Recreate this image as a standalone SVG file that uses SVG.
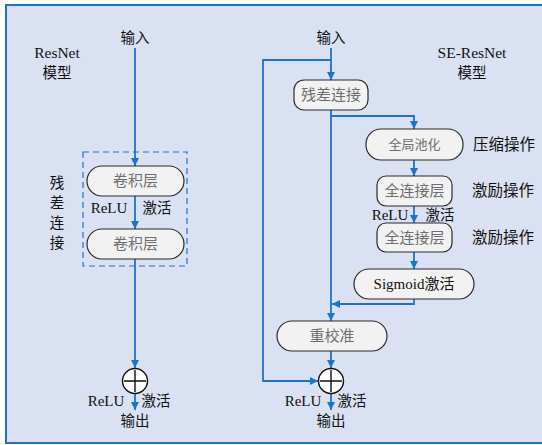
<svg xmlns="http://www.w3.org/2000/svg" width="542" height="445" viewBox="0 0 542 445">
<defs>
<marker id="ah" viewBox="0 0 10 10" refX="10" refY="5" markerWidth="8" markerHeight="8" markerUnits="userSpaceOnUse" orient="auto">
<path d="M0,0 L10,5 L0,10 z" fill="#1a74cc"/>
</marker>
<style>
.bg{fill:#dae1f2;stroke:#1a74cc;stroke-width:2}
.ln{fill:none;stroke:#1a74cc;stroke-width:1.8}
.la{fill:none;stroke:#1a74cc;stroke-width:1.8;marker-end:url(#ah)}
.nd{fill:#f2f2f2;stroke:#2a2a2a;stroke-width:1.2}
.nt{font-family:"Liberation Serif","Noto Sans CJK SC",serif;font-size:15px;fill:#6e6e6e;text-anchor:middle}
.lb{font-family:"Liberation Serif","Noto Sans CJK SC",serif;font-size:15px;fill:#111;text-anchor:middle}
.cj{font-family:"Noto Sans CJK SC",sans-serif;font-size:14.5px;fill:#111;text-anchor:middle}
.op{font-family:"Noto Sans CJK SC",sans-serif;font-size:15.5px;fill:#111;text-anchor:middle}
.dash{fill:none;stroke:#1a74cc;stroke-width:1.2;stroke-dasharray:6,4}
.circ{fill:#fff;stroke:#111;stroke-width:1.4}
</style>
</defs>
<rect class="bg" x="6" y="5" width="545" height="438"/>

<g id="connectors">
<line class="la" x1="135" y1="48" x2="135" y2="166"/>
<line class="la" x1="135" y1="196" x2="135" y2="229"/>
<line class="la" x1="135" y1="259" x2="135" y2="368"/>
<line class="la" x1="135" y1="394" x2="135" y2="410"/>
<line class="la" x1="331" y1="48" x2="331" y2="80"/>
<polyline class="la" points="331,60 263,60 263,381 318,381"/>
<line class="la" x1="331" y1="110" x2="331" y2="321"/>
<polyline class="la" points="331,116 414,116 414,129"/>
<line class="la" x1="414" y1="160" x2="414" y2="176"/>
<line class="la" x1="414" y1="206" x2="414" y2="223"/>
<line class="la" x1="414" y1="252" x2="414" y2="269"/>
<polyline class="la" points="414,299 414,304 332,304"/>
<line class="la" x1="331" y1="351" x2="331" y2="368"/>
<line class="la" x1="331" y1="394" x2="331" y2="410"/>
</g>

<g id="left-labels">
<text class="lb" x="57" y="58" style="font-size:15.5px">ResNet</text>
<text class="cj" x="57" y="78">模型</text>
<text class="cj" x="135" y="43">输入</text>
<text class="cj" x="57" y="188">残</text>
<text class="cj" x="57" y="208">差</text>
<text class="cj" x="57" y="228">连</text>
<text class="cj" x="57" y="248">接</text>
<text class="lb" x="109" y="213">ReLU</text>
<text class="cj" x="157" y="213">激活</text>
<text class="lb" x="106" y="406">ReLU</text>
<text class="cj" x="156" y="406">激活</text>
<text class="cj" x="135" y="426">输出</text>
</g>
<rect id="residual-box" class="dash" x="83" y="152" width="104" height="114"/>
<g id="conv1">
<rect class="nd" x="87" y="166" width="97" height="30" rx="15"/>
<text class="nt" x="135.5" y="186">卷积层</text>
</g>
<g id="conv2">
<rect class="nd" x="87" y="229" width="97" height="30" rx="15"/>
<text class="nt" x="135.5" y="249">卷积层</text>
</g>
<g id="add-left">
<circle class="circ" cx="135" cy="381" r="12.5"/>
<path d="M124,381 H146 M135,370 V392" stroke="#111" stroke-width="1.4"/>
</g>

<g id="right-labels">
<text class="lb" x="472" y="58" style="font-size:15.5px">SE-ResNet</text>
<text class="cj" x="472" y="78">模型</text>
<text class="cj" x="331" y="43">输入</text>
<text class="op" x="504" y="150">压缩操作</text>
<text class="op" x="503" y="196">激励操作</text>
<text class="op" x="503" y="243">激励操作</text>
<text class="lb" x="390" y="220">ReLU</text>
<text class="cj" x="440" y="220">激活</text>
<text class="lb" x="303" y="406">ReLU</text>
<text class="cj" x="352" y="406">激活</text>
<text class="cj" x="331" y="426">输出</text>
</g>
<g id="residual">
<rect class="nd" x="294" y="80" width="74" height="30" rx="10"/>
<text class="nt" x="331" y="100">残差连接</text>
</g>
<g id="gap">
<rect class="nd" x="366" y="129" width="97" height="31" rx="15"/>
<text class="nt" x="414.5" y="149" style="font-size:13px">全局池化</text>
</g>
<g id="fc1">
<rect class="nd" x="377" y="176" width="75" height="30" rx="9"/>
<text class="nt" x="414.5" y="196">全连接层</text>
</g>
<g id="fc2">
<rect class="nd" x="377" y="223" width="75" height="29" rx="9"/>
<text class="nt" x="414.5" y="242.5">全连接层</text>
</g>
<g id="sigmoid">
<rect class="nd" x="354" y="269" width="120" height="30" rx="15"/>
<text class="lb" x="414" y="289">Sigmoid激活</text>
</g>
<g id="recal">
<rect class="nd" x="277" y="321" width="110" height="30" rx="15"/>
<text class="nt" x="332" y="341">重校准</text>
</g>
<g id="add-right">
<circle class="circ" cx="331" cy="381" r="12.5"/>
<path d="M320,381 H342 M331,370 V392" stroke="#111" stroke-width="1.4"/>
</g>
</svg>
